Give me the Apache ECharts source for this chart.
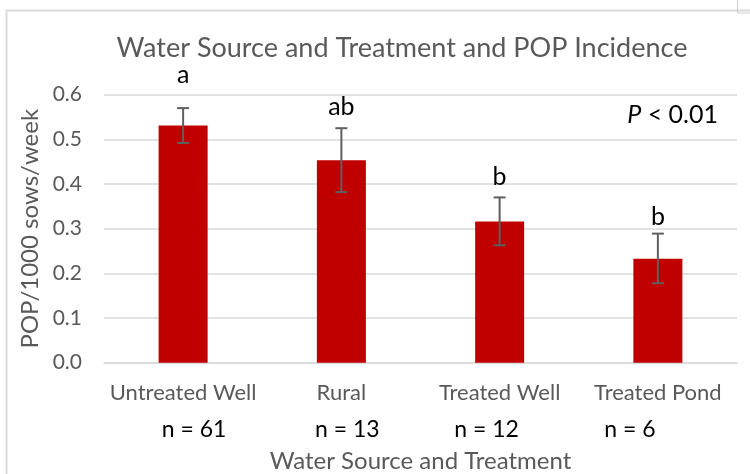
<!DOCTYPE html>
<html>
<head>
<meta charset="utf-8">
<script src="https://cdn.jsdelivr.net/npm/echarts@6/dist/echarts.min.js"></script>
<style>html,body{margin:0;padding:0;background:#fff}#c{width:750px;height:474px}</style>
</head>
<body>
<div id="c"></div>
<script>
const categories = ['Untreated Well', 'Rural', 'Treated Well', 'Treated Pond'];
const means = [0.531, 0.453, 0.316, 0.233];
const errLow = [0.492, 0.382, 0.263, 0.178];
const errHigh = [0.570, 0.525, 0.370, 0.289];
const letters = ['a', 'ab', 'b', 'b'];
const letterY = [0.644, 0.572, 0.415, 0.326];
const nLabels = ['n = 61', 'n = 13', 'n = 12', 'n = 6'];
const yTicks = [0, 0.1, 0.2, 0.3, 0.4, 0.5, 0.6];

const FONT = 'Lato';
const GRAY = '#595959';
const nOffsets = [11, 6, -13, -28];

const chart = echarts.init(document.getElementById('c'));
chart.setOption({
  animation: false,
  textStyle: { fontFamily: FONT },
  title: {
    text: 'Water Source and Treatment and POP Incidence',
    left: 397, top: 30, textAlign: 'center',
    textStyle: { fontFamily: FONT, fontSize: 27, fontWeight: 'normal', color: GRAY }
  },
  grid: { left: 104, right: 13, top: 94.7, bottom: 111.3, outerBoundsMode: 'none', containLabel: false },
  xAxis: {
    type: 'category', data: categories,
    axisLine: { lineStyle: { color: '#d9d9d9', width: 1.5 } },
    axisTick: { show: false },
    axisLabel: { color: GRAY, fontSize: 22, fontFamily: FONT, margin: 19, interval: 0, hideOverlap: false },
    name: 'Water Source and Treatment', nameLocation: 'middle', nameGap: 87,
    nameTextStyle: { color: GRAY, fontSize: 24, fontFamily: FONT }
  },
  yAxis: {
    type: 'value', min: yTicks[0], max: yTicks[yTicks.length - 1], interval: 0.1,
    axisLine: { show: false }, axisTick: { show: false },
    splitLine: { lineStyle: { color: '#d9d9d9', width: 1.5 } },
    axisLabel: { color: GRAY, fontSize: 21, fontFamily: FONT, margin: 22, formatter: v => v.toFixed(1) },
    name: 'POP/1000 sows/week', nameLocation: 'middle', nameGap: 59,
    nameTextStyle: { color: GRAY, fontSize: 24, fontFamily: FONT }
  },
  series: [
    {
      type: 'bar', data: means, barWidth: 49,
      itemStyle: { color: '#C00000' }
    },
    {
      type: 'custom',
      data: categories.map((c, i) => [i, errLow[i], errHigh[i]]),
      renderItem: (params, api) => {
        const x = api.value(0);
        const lo = api.coord([x, api.value(1)]);
        const hi = api.coord([x, api.value(2)]);
        const w = 6;
        const st = { stroke: '#5f5f5f', lineWidth: 2 };
        return { type: 'group', children: [
          { type: 'line', shape: { x1: lo[0], y1: lo[1], x2: hi[0], y2: hi[1] }, style: st },
          { type: 'line', shape: { x1: lo[0] - w, y1: lo[1], x2: lo[0] + w, y2: lo[1] }, style: st },
          { type: 'line', shape: { x1: hi[0] - w, y1: hi[1], x2: hi[0] + w, y2: hi[1] }, style: st }
        ]};
      },
      z: 5
    },
    {
      type: 'custom',
      data: categories.map((c, i) => [i, letterY[i]]),
      renderItem: (params, api) => {
        const p = api.coord([api.value(0), api.value(1)]);
        return { type: 'text', x: p[0], y: p[1], style: {
          text: letters[params.dataIndex], fill: '#000', font: '25px ' + FONT,
          textAlign: 'center', textVerticalAlign: 'middle' } };
      }
    },
    {
      type: 'custom',
      data: categories.map((c, i) => [i, 0]),
      renderItem: (params, api) => {
        const p = api.coord([api.value(0), api.value(1)]);
        return { type: 'text', x: p[0] + nOffsets[params.dataIndex], y: p[1] + 67, style: {
          text: nLabels[params.dataIndex], fill: '#000', font: '23px ' + FONT,
          textAlign: 'center', textVerticalAlign: 'middle' } };
      }
    }
  ],
  graphic: [
    { type: 'rect', shape: { x: 6.5, y: 10.5, width: 800, height: 500 },
      style: { fill: 'none', stroke: '#d9d9d9', lineWidth: 2 }, silent: true },
    { type: 'rect', shape: { x: 737.5, y: -5, width: 20, height: 18 },
      style: { fill: 'none', stroke: '#d0d0d0', lineWidth: 1 }, silent: true },
    { type: 'text', x: 718, y: 115, style: {
      text: '{i|P} < 0.01', textAlign: 'right', textVerticalAlign: 'middle',
      font: '25px ' + FONT, fill: '#000',
      rich: { i: { fontStyle: 'italic', fontSize: 25, fontFamily: FONT, fill: '#000' } } } }
  ]
});
</script>
</body>
</html>
